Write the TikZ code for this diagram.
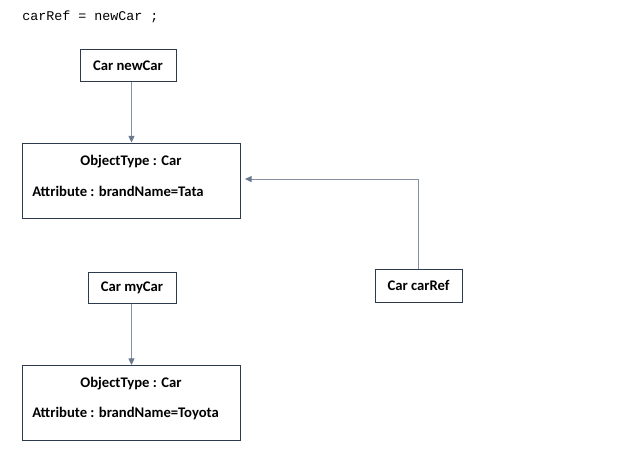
\documentclass[tikz,border=0pt]{standalone}
\usepackage{fontspec}
\setmainfont{Carlito}
\newfontfamily\codefont{Liberation Mono}
\usetikzlibrary{arrows.meta}
\definecolor{boxline}{HTML}{2E3B4E}
\definecolor{arrowline}{HTML}{8592A6}
\definecolor{arrowhead}{HTML}{6A788D}
\begin{document}
\begin{tikzpicture}[x=0.75pt,y=-0.75pt,
  varbox/.style={draw=boxline,line width=0.75pt,fill=white,inner sep=0pt,font=\bfseries\fontsize{11pt}{13pt}\selectfont},
  objbox/.style={draw=boxline,line width=0.75pt,fill=white,inner sep=0pt,minimum width=163.5pt,minimum height=56.25pt},
  lbl/.style={inner sep=0pt,font=\bfseries\fontsize{11pt}{13pt}\selectfont},
  refarrow/.style={draw=arrowline,line width=0.8pt,-{Triangle[length=5pt,width=4.5pt,color=arrowhead,fill=arrowhead]}}
]
\useasboundingbox[fill=white] (0,0) rectangle (635,462);
\node[inner sep=0pt,anchor=west,font=\codefont\fontsize{10pt}{12pt}\selectfont] (code) at (22,16.5) {carRef = newCar ;};

\node[varbox,minimum width=72pt,minimum height=24pt] (newcar) at (128,65.5) {Car newCar};
\node[objbox] (obj1) at (131.5,180.5) {};
\node[lbl] (obj1type) at (131,161.5) {ObjectType : Car};
\node[lbl,anchor=west] (obj1attr) at (32,191.5) {Attribute : brandName=Tata};

\node[varbox,minimum width=65.25pt,minimum height=24.75pt] (carref) at (418.5,285.5) {Car carRef};

\node[varbox,minimum width=66pt,minimum height=23.25pt] (mycar) at (132,287.5) {Car myCar};
\node[objbox] (obj2) at (131.5,403) {};
\node[lbl] (obj2type) at (131,383.5) {ObjectType : Car};
\node[lbl,anchor=west] (obj2attr) at (32,413) {Attribute : brandName=Toyota};

\draw[refarrow] (newcar.south -| obj1.north) -- (obj1.north);
\draw[refarrow] (mycar.south -| obj2.north) -- (obj2.north);
\draw[refarrow,shorten >=3pt] (carref.north) |- ([yshift=1.1pt]obj1.east);
\end{tikzpicture}
\end{document}
